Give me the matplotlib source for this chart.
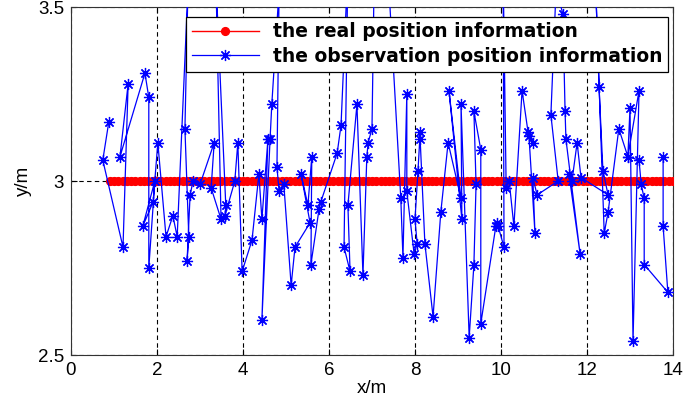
import matplotlib
matplotlib.use("Agg")
import matplotlib.pyplot as plt

plt.rcParams['font.family'] = ['Liberation Sans', 'DejaVu Sans']

# real position: constant y = 3 along the track
x_real = [0.9, 1.0, 1.1, 1.2, 1.3, 1.4, 1.5, 1.6, 1.7, 1.8, 1.9, 2.0, 2.1, 2.2, 2.3, 2.4,
          2.5, 2.6, 2.7, 2.8, 2.9, 3.0, 3.1, 3.2, 3.3, 3.4, 3.5, 3.6, 3.7, 3.8, 3.9, 4.0,
          4.1, 4.2, 4.3, 4.4, 4.5, 4.6, 4.7, 4.8, 4.9, 5.0, 5.1, 5.2, 5.3, 5.4, 5.5, 5.6,
          5.7, 5.8, 5.9, 6.0, 6.1, 6.2, 6.3, 6.4, 6.5, 6.6, 6.7, 6.8, 6.9, 7.0, 7.1, 7.2,
          7.3, 7.4, 7.5, 7.6, 7.7, 7.8, 7.9, 8.0, 8.1, 8.2, 8.3, 8.4, 8.5, 8.6, 8.7, 8.8,
          8.9, 9.0, 9.1, 9.2, 9.3, 9.4, 9.5, 9.6, 9.7, 9.8, 9.9, 10.0, 10.1, 10.2, 10.3,
          10.4, 10.5, 10.6, 10.7, 10.8, 10.9, 11.0, 11.1, 11.2, 11.3, 11.4, 11.5, 11.6,
          11.7, 11.8, 11.9, 12.0, 12.1, 12.2, 12.3, 12.4, 12.5, 12.6, 12.7, 12.8, 12.9,
          13.0, 13.1, 13.2, 13.3, 13.4, 13.5, 13.6, 13.7, 13.8, 13.9, 14.0]
y_real = [3.0] * len(x_real)

# observed positions (in time order)
x_obs = [0.88, 0.74, 1.21, 1.33, 1.14, 1.72, 1.81, 1.81, 1.95, 1.67, 1.91, 2.02,
         2.21, 2.37, 2.47, 2.72, 2.65, 2.74, 2.70, 2.77, 2.84, 3.00, 3.33, 3.26,
         3.49, 3.37, 3.60, 3.58, 3.81, 3.88, 3.98,
         4.21, 4.37, 4.44, 4.58, 4.44, 4.63, 4.67, 4.84, 4.79, 4.84, 4.95, 5.12,
         5.21, 5.56, 5.35, 5.51, 5.60, 5.58, 5.77, 5.81,
         6.19, 6.28, 6.44, 6.35, 6.49, 6.44, 6.65, 6.79, 6.88, 6.91, 7.00, 7.05,
         7.25, 7.35, 7.67, 7.72, 7.81, 7.81, 7.98,
         8.05, 8.00, 8.07, 8.12, 8.12, 8.23, 8.42, 8.60, 8.77, 9.07, 8.79, 9.09,
         9.07, 9.26, 9.37, 9.42, 9.37, 9.53, 9.53, 9.88, 9.93,
         9.91, 10.07, 10.05, 10.12, 10.19, 10.30, 10.49, 10.63, 10.74, 10.65,
         10.79, 10.74, 10.84, 11.33, 11.16, 11.28, 11.44, 11.49, 11.51, 11.84,
         11.58, 11.65, 11.77, 11.86,
         12.49, 12.37, 12.28, 12.19, 12.40, 12.49, 12.74, 12.95, 13.00, 13.07,
         13.21, 12.95, 13.21, 13.26, 13.33, 13.33, 13.88, 13.77, 13.77]
y_obs = [3.17, 3.06, 2.81, 3.28, 3.07, 3.31, 3.24, 2.75, 3.00, 2.87, 2.94, 3.11,
         2.84, 2.90, 2.84, 3.55, 3.15, 2.84, 2.77, 2.96, 3.00, 2.99, 3.11, 2.98,
         2.89, 3.58, 2.93, 2.90, 3.00, 3.11, 2.74,
         2.83, 3.02, 2.89, 3.12, 2.60, 3.12, 3.22, 3.55, 3.04, 2.97, 2.99, 2.70,
         2.81, 2.88, 3.02, 2.93, 3.07, 2.76, 2.92, 2.94,
         3.08, 3.16, 3.62, 2.81, 2.74, 2.93, 3.22, 2.73, 3.07, 3.11, 3.15, 3.58,
         3.70, 3.65, 2.95, 2.78, 3.25, 2.97, 2.79,
         2.82, 2.89, 3.03, 3.14, 3.12, 2.82, 2.61, 2.91, 3.11, 2.95, 3.26, 2.89,
         3.22, 2.55, 2.76, 2.99, 3.20, 3.09, 2.59, 2.87, 2.87,
         2.88, 2.81, 3.60, 2.98, 3.00, 2.87, 3.26, 3.14, 3.11, 3.13,
         2.85, 3.01, 2.96, 3.00, 3.19, 3.55, 3.48, 3.20, 3.12, 2.79,
         3.02, 3.00, 3.11, 3.01,
         2.96, 3.03, 3.27, 3.60, 2.85, 2.91, 3.15, 3.07, 3.21, 2.54,
         3.26, 3.07, 3.06, 2.99, 2.95, 2.76, 2.68, 2.87, 3.07]

x_ticks = [0, 2, 4, 6, 8, 10, 12, 14]
y_ticks = [2.5, 3, 3.5]
y_tick_labels = ['2.5', '3', '3.5']

fig = plt.figure(figsize=(6.85, 4.0), dpi=100)
ax = fig.add_axes([0.1036, 0.1125, 0.8789, 0.87])

ax.plot(x_real, y_real, '-', color='red', marker='o', markersize=5.6,
        linewidth=1, label='the real position information', zorder=3)
ax.plot(x_obs, y_obs, '-', color='blue', marker=(8, 2, 0), markersize=8,
        markeredgewidth=0.9, linewidth=0.9,
        label='the observation position information', zorder=4)

ax.set_xlim(0, 14)
ax.set_ylim(2.5, 3.5)
ax.set_xticks(x_ticks)
ax.set_yticks(y_ticks)
ax.set_yticklabels(y_tick_labels)
ax.grid(True, linestyle=(0, (4, 3)), color='black', linewidth=0.8)
ax.set_axisbelow(True)
ax.tick_params(direction='in', length=4, labelsize=13.5, top=True, right=True,
               width=0.8, pad=5)
for s in ax.spines.values():
    s.set_linewidth(0.8)
    s.set_color('#333333')

ax.set_xlabel('x/m', fontsize=13.5, labelpad=1)
ax.set_ylabel('y/m', fontsize=13.5, labelpad=4)

leg = ax.legend(loc='upper right', bbox_to_anchor=(0.992, 0.972),
                borderaxespad=0, fancybox=False, framealpha=1,
                edgecolor='black', handlelength=3.6, handletextpad=0.75,
                prop={'family': 'DejaVu Sans', 'weight': 'bold', 'size': 13.5},
                borderpad=0.3, labelspacing=0.3)
leg.get_frame().set_linewidth(0.9)
leg.set_zorder(10)

fig.savefig('out.png', dpi=100)
